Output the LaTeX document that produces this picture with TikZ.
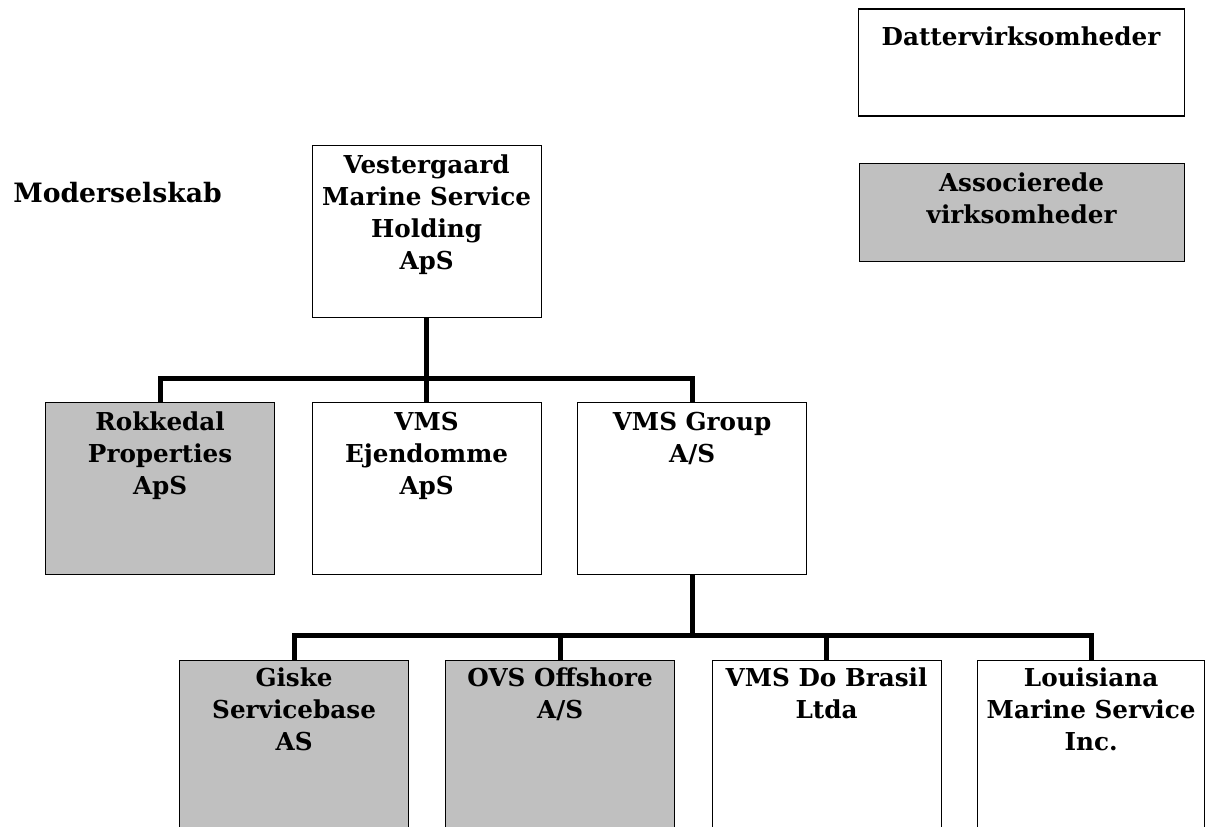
\documentclass[tikz,border=0pt]{standalone}
\usepackage{fontspec}
\setmainfont{DejaVu Serif}
\definecolor{assocgray}{RGB}{192,192,192}
\begin{document}
\begin{tikzpicture}[x=0.75pt,y=-0.75pt,
  box/.style={draw=black,line width=0.9pt,fill=white,rectangle,inner sep=0pt,anchor=north west,
              minimum width=171.75pt,minimum height=129pt},
  assoc/.style={box,fill=assocgray},
  lowbox/.style={minimum height=140pt},
  conn/.style={line width=3.75pt,line join=miter},
  lbl/.style={anchor=north,inner sep=0pt,align=center,font=\fontsize{18.5}{24}\selectfont\bfseries},
  heading/.style={inner sep=0pt,font=\fontsize{20}{24}\selectfont\bfseries}]
\useasboundingbox (0,0) rectangle (1206,827);
\clip (0,0) rectangle (1206,827);
% legend
\node[box,minimum width=244.5pt,minimum height=80.25pt] (datter) at (858,8.5) {};
\node[assoc,minimum width=243.75pt,minimum height=73.5pt] (assocbox) at (858.5,163) {};
\node[heading,anchor=base,font=\fontsize{18.5}{24}\selectfont\bfseries] (datterlbl) at (1021,45.5) {Dattervirksomheder};
\node[lbl] (assoclbl) at ([yshift=-5.6*0.75pt]assocbox.north) {\strut Associerede\\virksomheder};
% heading
\node[heading,anchor=base west] (moder) at (13,203) {Moderselskab};
% level 1
\node[box] (vest) at (311.5,145) {};
\node[lbl] (vestlbl) at ([yshift=-4.2pt]vest.north) {\strut Vestergaard\\Marine Service\\Holding\\ApS};
% level 2
\node[assoc] (rok) at (45,402) {};
\node[box] (ejd) at (311.5,402) {};
\node[box] (grp) at (577,402) {};
\node[lbl] (roklbl) at ([yshift=-4.2pt]rok.north) {\strut Rokkedal\\Properties\\ApS};
\node[lbl] (ejdlbl) at ([yshift=-4.2pt]ejd.north) {\strut VMS\\Ejendomme\\ApS};
\node[lbl] (grplbl) at ([yshift=-4.2pt]grp.north) {\strut VMS Group\\A/S};
% level 3
\node[assoc,lowbox] (gis) at (179,659.5) {};
\node[assoc,lowbox] (ovs) at (445,659.5) {};
\node[box,lowbox] (bra) at (711.5,659.5) {};
\node[box,lowbox,minimum width=170.25pt] (lou) at (977,659.5) {};
\node[lbl] (gislbl) at ([yshift=-3.6pt]gis.north) {\strut Giske\\Servicebase\\AS};
\node[lbl] (ovslbl) at ([yshift=-3.6pt]ovs.north) {\strut OVS Offshore\\A/S};
\node[lbl] (bralbl) at ([yshift=-3.6pt]bra.north) {\strut VMS Do Brasil\\Ltda};
\node[lbl] (loulbl) at ([yshift=-3.6pt]lou.north) {\strut Louisiana\\Marine Service\\Inc.};
% connectors
\coordinate (lvltwo) at (0,378);
\coordinate (lvlthree) at (0,635.5);
\coordinate (bus1) at (vest.south |- lvltwo);
\coordinate (bus2) at (grp.south |- lvlthree);
\draw[conn] (vest.south) -- (ejd.north);
\draw[conn] (rok.north) |- (bus1) -| (grp.north);
\draw[conn] (grp.south) -- (bus2);
\draw[conn] (gis.north) |- (bus2) -| (lou.north);
\draw[conn] (ovs.north) -- (ovs.north |- bus2);
\draw[conn] (bra.north) -- (bra.north |- bus2);
\end{tikzpicture}
\end{document}
